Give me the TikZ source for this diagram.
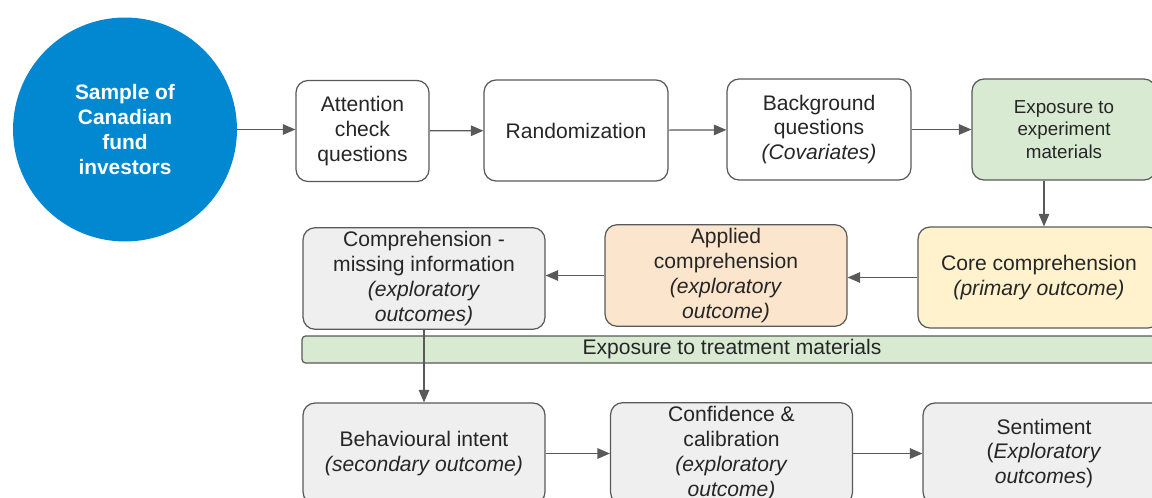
\documentclass[tikz,border=0pt]{standalone}
\usepackage{fontspec}
\setmainfont{Liberation Sans}
\usetikzlibrary{arrows.meta}

\definecolor{circblue}{HTML}{0288D1}
\definecolor{edgegray}{HTML}{595959}
\definecolor{inkgray}{HTML}{262626}
\definecolor{boxgray}{HTML}{EFEFEF}
\definecolor{boxgreen}{HTML}{D9EAD3}
\definecolor{boxyellow}{HTML}{FFF2CC}
\definecolor{boxorange}{HTML}{FCE5CD}

\tikzset{
  stagebox/.style={draw=edgegray, line width=0.7pt, rounded corners=0.24cm,
    align=center, inner sep=2pt, minimum height=2.02cm, text=inkgray,
    font=\fontsize{12}{14.2}\selectfont},
  flow/.style={draw=edgegray, line width=0.7pt, ->}
}

\begin{document}
\begin{tikzpicture}[x=0.02cm, y=-0.02cm, >={Triangle[length=2.5mm,width=2.1mm]}]

    % frame
    \clip (0,0) rectangle (1152,497);

    % sample
    \node (sample) [circle, fill=circblue, minimum size=4.48cm, align=center,
      text=white, font=\bfseries\fontsize{11.9}{14.2}\selectfont]
      at (125,129.5) {Sample of\\Canadian\\fund\\investors};

    % first row
    \node (attn) [stagebox, minimum width=2.66cm] at (362.5,131)
      {Attention\\check\\questions};
    \node (rand) [stagebox, minimum width=3.68cm] at (576,130.5) {Randomization};
    \node (bg) [stagebox, minimum width=3.68cm] at (819,129.5)
      {Background\\questions\\\textit{(Covariates)}};
    \node (exp) [stagebox, fill=boxgreen, minimum width=3.68cm,
      font=\fontsize{10.7}{13}\selectfont] at (1064,129.5)
      {Exposure to\\experiment\\materials};

    % second row
    \node (core) [stagebox, fill=boxyellow, minimum width=4.84cm] at (1039,277.5)
      {Core comprehension\\\textit{(primary outcome)}};
    \node (appl) [stagebox, fill=boxorange, minimum width=4.84cm] at (726,275.5)
      {Applied\\comprehension\\\textit{(exploratory}\\\textit{outcome)}};
    \node (cmiss) [stagebox, fill=boxgray, minimum width=4.84cm] at (424,278.5)
      {Comprehension -\\missing information\\\textit{(exploratory}\\\textit{outcomes)}};

    % treatment bar
    \node (treat) [draw=edgegray, line width=0.7pt, fill=boxgreen, rounded corners=2pt,
      minimum width=17.2cm, minimum height=0.54cm, inner sep=0pt, text=inkgray,
      font=\fontsize{12}{14.2}\selectfont] at (732,349.5)
      {Exposure to treatment materials};

    % third row
    \node (behav) [stagebox, fill=boxgray, minimum width=4.84cm] at (424,453.5)
      {Behavioural intent\\\textit{(secondary outcome)}};
    \node (conf) [stagebox, fill=boxgray, minimum width=4.84cm] at (731.5,453.5)
      {Confidence \&\\calibration\\\textit{(exploratory}\\\textit{outcome)}};
    \node (sent) [stagebox, fill=boxgray, minimum width=4.84cm] at (1044,453.5)
      {Sentiment\\(\textit{Exploratory}\\\textit{outcomes})};

    % arrows
    \draw [flow] (sample) -- (attn.west |- sample);
    \draw [flow] (attn) -- (rand);
    \draw [flow] (rand) -- (bg);
    \draw [flow] (bg) -- (exp);
    \draw [flow] ([xshift=-0.4cm]exp.south) -- ([xshift=-0.4cm]exp.south |- core.north);
    \draw [flow] (core) -- (core.west -| appl.east);
    \draw [flow] (appl.west) -- (appl.west -| cmiss.east);
    \draw [flow] (cmiss) -- (behav);
    \draw [flow] (behav) -- (conf);
    \draw [flow] (conf) -- (sent);

\end{tikzpicture}
\end{document}
